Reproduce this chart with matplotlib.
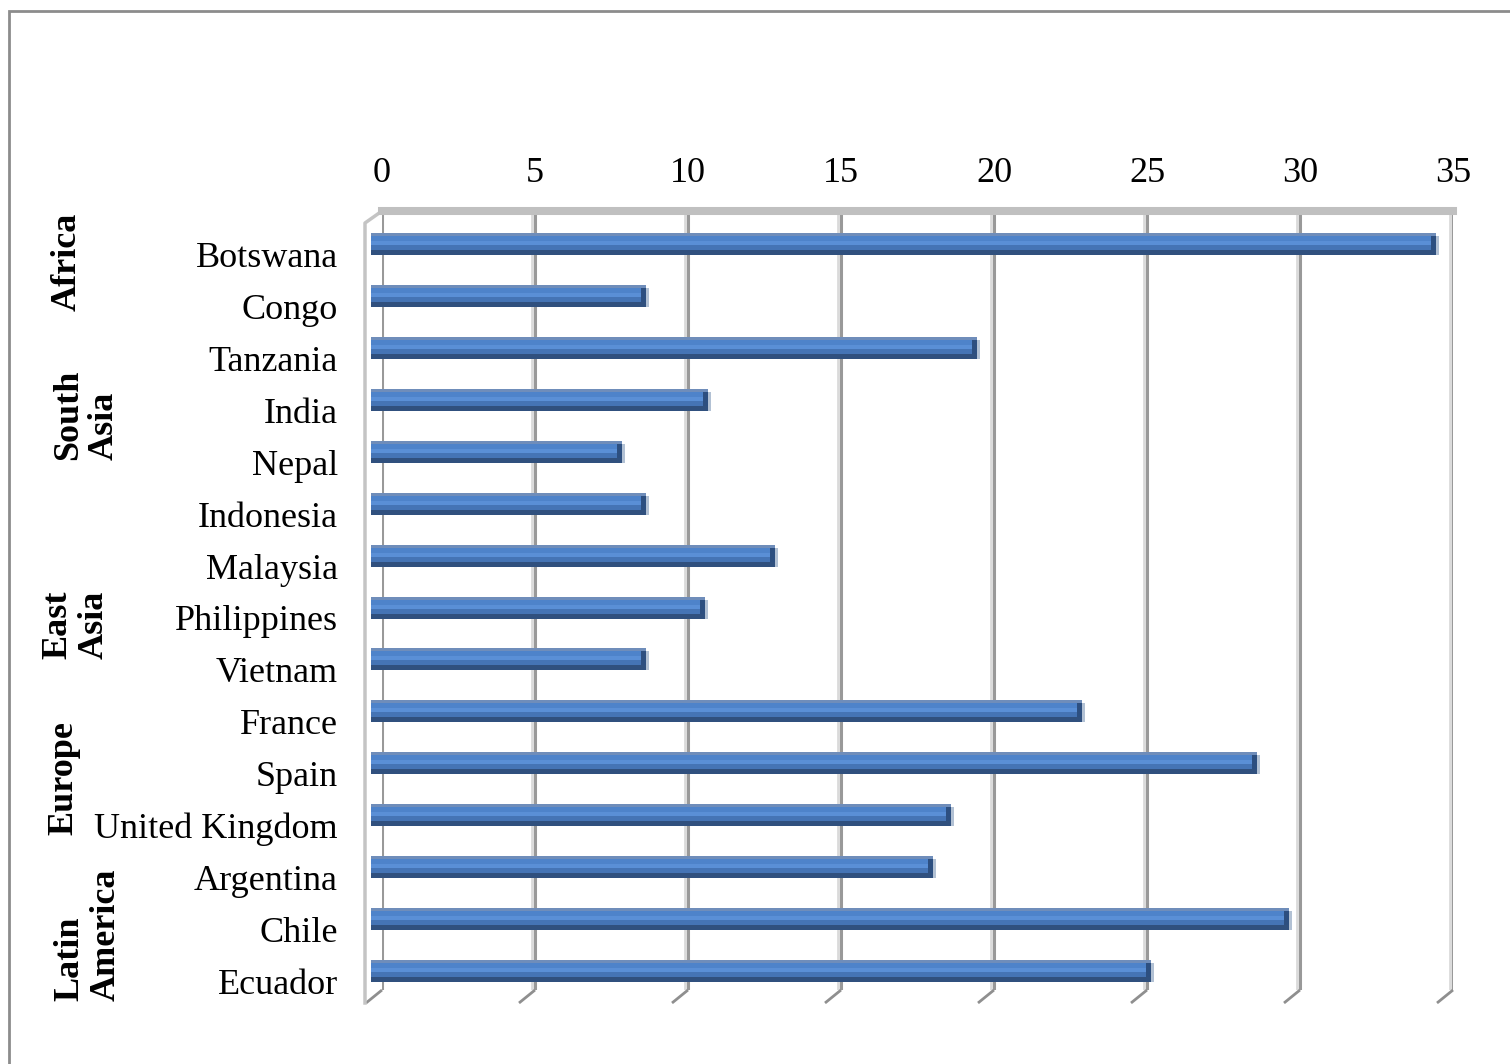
import matplotlib
matplotlib.use("Agg")
from matplotlib import pyplot as plt
from matplotlib.patches import Rectangle
from matplotlib.transforms import ScaledTranslation

plt.rcParams['font.family'] = ['Liberation Serif', 'DejaVu Serif']

# Countries, top to bottom, and their values
countries = ['Botswana', 'Congo', 'Tanzania', 'India', 'Nepal', 'Indonesia',
             'Malaysia', 'Philippines', 'Vietnam', 'France', 'Spain',
             'United Kingdom', 'Argentina', 'Chile', 'Ecuador']
values = [34.8, 9.0, 19.8, 11.0, 8.2, 9.0, 13.2, 10.9, 9.0,
          23.25, 28.95, 18.95, 18.35, 30.0, 25.5]

# Region labels written down the left side
regions = ['Africa', 'South\nAsia', 'East\nAsia', 'Europe', 'Latin\nAmerica']
region_pos = [(67, 262), (86, 415), (76, 625), (64, 778), (88, 935)]

x_ticks = [0, 5, 10, 15, 20, 25, 30, 35]

W, H, DPI = 1510, 1064, 100
fig = plt.figure(figsize=(W / DPI, H / DPI), dpi=DPI)

# back wall of the plot area, in pixels
left, right, top, bottom = 382, 1453, 211, 990
ax = fig.add_axes([left / W, 1 - bottom / H, (right - left) / W, (bottom - top) / H])
ax.set_xlim(0, 35)
ax.set_ylim(len(countries) - 0.5, -0.5)

xpp = 35 / (right - left)              # data units per pixel, x
ypp = len(countries) / (bottom - top)  # data units per pixel, y


def shift(dx, dy):
    return ScaledTranslation(dx / DPI, -dy / DPI, fig.dpi_scale_trans)


# gridlines and the slanted floor ticks
ax.set_axisbelow(True)
ax.vlines(x_ticks, -0.5, len(countries) - 0.5, color='#DADADA', lw=2,
          transform=ax.transData + shift(-3, 0), zorder=0)
ax.grid(axis='x', color='#999999', lw=2.2, zorder=1)
ax.grid(axis='y', visible=False)
floor = len(countries) - 0.5
ceiling = -0.5
for v in x_ticks:
    ax.plot([v, v - 16 * xpp], [floor, floor + 13 * ypp], color='#8F8F8F',
            lw=2, clip_on=False, solid_capstyle='butt')

# left side wall edge
ax.plot([-17 * xpp, -17 * xpp, 0], [floor + 13 * ypp, ceiling + 12 * ypp, ceiling],
        color='#C4C4C4', lw=2.5, clip_on=False)

for side in ['left', 'right', 'bottom']:
    ax.spines[side].set_visible(False)
ax.spines['top'].set_color('#C0C0C0')
ax.spines['top'].set_linewidth(5.8)

# bars drawn as stacked strips to give a rounded look
ys = list(range(len(countries)))
bar_shift = ax.transData + shift(-11, 7)
strips = [(-11, -8, '#6F8DBA'), (-8, -3, '#4E83CA'), (-3, 1, '#5A8FD6'),
          (1, 6, '#4574B5'), (6, 11, '#30507E')]
for a, b, c in strips:
    ax.barh([y + (a + b) / 2 * ypp for y in ys], values, height=(b - a) * ypp,
            left=0, color=c, lw=0, transform=bar_shift, clip_on=False, zorder=3)
# end caps
cap = 5 * xpp
ax.barh([y - 1 * ypp for y in ys], [cap] * len(values), height=14 * ypp,
        left=[v - cap for v in values], color='#2D4F80', lw=0,
        transform=bar_shift, clip_on=False, zorder=4)
ax.barh([y + 1.5 * ypp for y in ys], [3 * xpp] * len(values), height=19 * ypp,
        left=values, color='#B2C1D4', lw=0,
        transform=bar_shift, clip_on=False, zorder=4)

# axis labels
ax.xaxis.tick_top()
ax.set_xticks(x_ticks)
ax.tick_params(axis='x', length=0, pad=15, labelsize=26)
ax.set_yticks([])
name_tf = ax.get_yaxis_transform() + shift(-44, 30)
for y, name in zip(ys, countries):
    ax.text(0, y, name, transform=name_tf, ha='right', va='baseline', fontsize=26)

for text, (px, py) in zip(regions, region_pos):
    fig.text(px / W, 1 - py / H, text, rotation=90, ha='center', va='center',
             multialignment='left', linespacing=1.1, fontsize=26,
             fontweight='bold')

# outer chart border
fig.add_artist(Rectangle((8.5 / W, -0.1), 2, 1.1 - 10.5 / H, transform=fig.transFigure,
                         fill=False, ec='#8C8C8C', lw=2))

fig.savefig('out.png', dpi=DPI)
